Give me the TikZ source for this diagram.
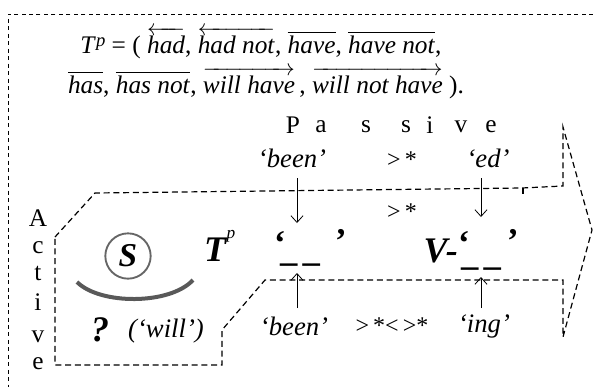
\documentclass[tikz,border=0pt]{standalone}
\usepackage{amsmath}
\usepackage{fontspec}
\setmainfont{Liberation Serif}
\usetikzlibrary{arrows.meta}
\begin{document}
\begin{tikzpicture}[x=0.75pt,y=-0.75pt,
  frame/.style={dash pattern=on 3pt off 2.6pt, line width=0.5pt},
  arrowshape/.style={dash pattern=on 4.5pt off 2.8pt, line width=0.9pt},
  lbl/.style={inner sep=0pt, font=\fontsize{20}{22}\selectfont\itshape},
  sym/.style={inner sep=0pt, font=\fontsize{18}{20}\selectfont},
  letter/.style={inner sep=0pt, font=\fontsize{19}{21}\selectfont},
  big/.style={inner sep=0pt, font=\fontsize{27}{29}\selectfont\bfseries\itshape},
  quot/.style={inner sep=0pt, font=\fontsize{26}{28}\selectfont\bfseries},
  formula/.style={inner sep=0pt, anchor=base, font=\fontsize{19}{22}\selectfont},
  arr/.style={-{Straight Barb[length=5pt,width=9pt]}, line width=0.6pt}
]
\useasboundingbox (0,0) rectangle (593,387);
% outer frame
\draw[frame] (593,14) -- (8,14) -- (8,387);
% formula
\node[formula] (f1) at (261,53) {\textit{T}\raisebox{0.55ex}{\fontsize{14}{14}\selectfont\textit{p}} = ( $\overleftarrow{\hbox{\textit{had}}}$, $\overleftarrow{\hbox{\textit{had not}}}$, $\overline{\hbox{\textit{have}}}$, $\overline{\hbox{\textit{have not}}}$,};
\node[formula] (f2) at (266,93) {$\overline{\hbox{\textit{has}}}$, $\overline{\hbox{\textit{has not}}}$, $\overrightarrow{\hbox{\textit{will have}}}$\,, $\overrightarrow{\hbox{\textit{will not have}}}$ ).};
% Passive
\node[letter] (p1) at (293,125) {P};
\node[letter] (p2) at (321,127) {a};
\node[letter] (p3) at (366,127) {s};
\node[letter] (p4) at (406,127) {s};
\node[letter] (p5) at (430,125) {i};
\node[letter] (p6) at (461,127) {v};
\node[letter] (p7) at (491,127) {e};
% Active
\node[letter] (a1) at (38,218) {A};
\node[letter] (a2) at (38,248) {c};
\node[letter] (a3) at (38,273) {t};
\node[letter] (a4) at (38,302) {i};
\node[letter] (a5) at (38,337) {v};
\node[letter] (a6) at (38,364) {e};
% arrow-like dashed shape
\draw[arrowshape] (55,237) -- (95,193) -- (522,188) -- (563,186) -- (563,127) -- (592,230) -- (563,337) -- (563,280) -- (265,280) -- (222,330) -- (222,365) -- (55,365) -- cycle;
\draw[line width=0.9pt] (523,188) -- (523,194);
% top labels
\node[lbl] (been1) at (292,158) {‘been’};
\node[sym] (gt1) at (402,160) {>\,*};
\node[lbl] (ed) at (488,158) {‘ed’};
\node[sym] (gt2) at (402,212) {>\,*};
% bottom labels
\node[lbl] (been2) at (294,326) {‘been’};
\node[sym] (gt3) at (392,326) {>\,*<\,>*};
\node[lbl] (ing) at (484,326) {‘ing’};
% blanks
\node[quot] (q1) at (280,243) {‘};
\node[quot, anchor=base] (u1) at (300,261) {\_\hspace{4pt}\_};
\node[quot] (q2) at (341,241) {’};
\node[big, anchor=east] (V) at (458,251) {V-};
\node[quot] (q3) at (464,243) {‘};
\node[quot, anchor=base] (u2) at (481,265) {\_\hspace{4pt}\_};
\node[quot] (q4) at (513,241) {’};
% arrows
\coordinate (d1) at (297,223);
\coordinate (d2) at (481,217);
\coordinate (u1e) at (297,273);
\coordinate (u2e) at (481,277);
\draw[arr] (297,178) -- (d1);
\draw[arr] (481,178) -- (d2);
\draw[arr] (297,308) -- (u1e);
\draw[arr] (481,308) -- (u2e);
% S circle and smile
\node[draw=black!60, line width=1.4pt, circle, minimum size=34pt, inner sep=0pt, font=\fontsize{25}{27}\selectfont\bfseries\itshape] (S) at (128,256) {S};
\draw[black!65, line width=3pt] (77,282) .. controls (100,305) and (170,305) .. (193,280);
\node[big] (T) at (215,250) {T};
\node[inner sep=0pt, font=\fontsize{13}{14}\selectfont\itshape] (Tp) at (231,236) {p};
\node[big] (qm) at (100,330) {?};
\node[lbl] (will) at (166,331) {(‘will’)};
\end{tikzpicture}
\end{document}
